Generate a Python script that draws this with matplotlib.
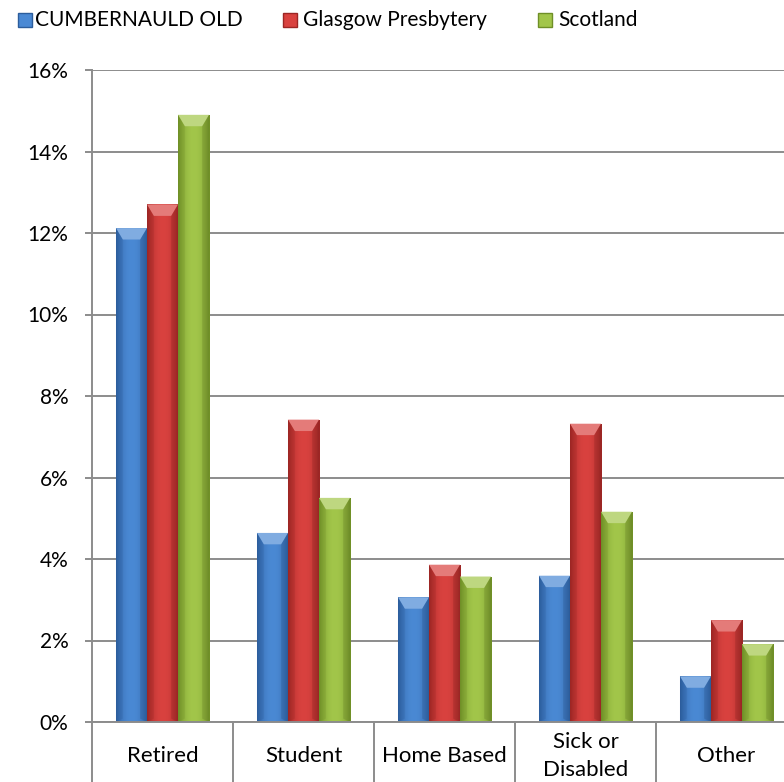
import numpy as np
import matplotlib
matplotlib.use("Agg")
import matplotlib.pyplot as plt
from matplotlib.patches import Rectangle
from matplotlib.ticker import FuncFormatter, FixedLocator
import matplotlib.transforms as mtransforms

categories = ["Retired", "Student", "Home Based", "Sick or\nDisabled", "Other"]
series_names = ["CUMBERNAULD OLD", "Glasgow Presbytery", "Scotland"]
cumbernauld = [12.12, 4.64, 3.06, 3.59, 1.12]
glasgow = [12.70, 7.42, 3.86, 7.32, 2.50]
scotland = [14.90, 5.50, 3.57, 5.16, 1.91]
yticks = [0, 2, 4, 6, 8, 10, 12, 14, 16]

colors_mid = ["#4a89d4", "#d9423f", "#a2c64a"]
colors_edge = ["#2c5d9c", "#9c2624", "#6f8f27"]

plt.rcParams['font.family'] = ['Lato', 'DejaVu Sans']

W, H = 784, 782
fig = plt.figure(figsize=(W / 100, H / 100), dpi=100)
left, right, bottom, top = 92, 797, 722, 70
ax = fig.add_axes([left / W, 1 - bottom / H, (right - left) / W, (bottom - top) / H])

x = np.arange(len(categories))
bw = 0.22
offsets = [-bw, 0, bw]
data = [cumbernauld, glasgow, scotland]

ax.set_xlim(-0.5, len(categories) - 0.5)
ax.set_ylim(0, 16)

def mix(c1, c2, t):
    a = np.array(matplotlib.colors.to_rgb(c1))
    b = np.array(matplotlib.colors.to_rgb(c2))
    return a * (1 - t) + b * t

for i, (vals, off) in enumerate(zip(data, offsets)):
    bars = ax.bar(x + off, vals, width=bw, color=colors_mid[i], edgecolor='none',
                  zorder=3, label=series_names[i])
    n = 64
    t = np.abs(np.linspace(-1, 1, n)) ** 2.2
    grad = np.array([mix(colors_mid[i], colors_edge[i], tt) for tt in t])[None, :, :]
    for b in bars:
        x0, y0 = b.get_x(), b.get_y()
        w, h = b.get_width(), b.get_height()
        im = ax.imshow(grad, extent=[x0, x0 + w, y0, y0 + h], aspect='auto',
                       zorder=3.5, interpolation='bilinear')
        im.set_clip_path(b)
        bev = 0.28
        ax.fill([x0, x0 + w, x0 + w * 0.78, x0 + w * 0.22],
                [y0 + h, y0 + h, y0 + h - bev, y0 + h - bev],
                color=mix(colors_mid[i], "#ffffff", 0.3), zorder=4, lw=0)
        ax.fill([x0, x0 + w * 0.22, x0 + w * 0.22, x0],
                [y0 + h, y0 + h - bev, y0 + bev * 0.3, y0],
                color=colors_edge[i], zorder=4, lw=0, alpha=0.25)
        ax.fill([x0 + w, x0 + w * 0.78, x0 + w * 0.78, x0 + w],
                [y0 + h, y0 + h - bev, y0 + bev * 0.3, y0],
                color=mix(colors_edge[i], "#000000", 0.2), zorder=4, lw=0, alpha=0.25)

ax.set_yticks(yticks)
ax.yaxis.set_major_formatter(FuncFormatter(lambda v, p: f"{v:.0f}%"))
ax.grid(axis='y', color='#8c8c8c', linewidth=1.4, zorder=0)
ax.set_axisbelow(True)
for s in ['top', 'right', 'bottom']:
    ax.spines[s].set_visible(False)
ax.spines['left'].set_color('#8c8c8c')
ax.spines['left'].set_linewidth(1.4)
ax.tick_params(axis='y', direction='out', length=5, width=1.4, color='#8c8c8c',
               labelsize=15, pad=12, labelcolor='black')

ax.set_xticks([])
ax.xaxis.set_minor_locator(FixedLocator(np.arange(len(categories) + 1) - 0.5))
ax.tick_params(axis='x', which='minor', direction='out', length=44, width=1.4,
               color='#8c8c8c')
ax.axhline(0, color='#8c8c8c', lw=1.4, zorder=5, clip_on=False)
trans = mtransforms.blended_transform_factory(ax.transData, fig.transFigure)
for xi, lab in zip(x, categories):
    ax.text(xi, 1 - 756 / H, lab, transform=trans, ha='center', va='center',
            fontsize=16, linespacing=1.5)

# legend (manual placement to match reference spacing)
leg_marker_x = [18, 283, 538]
leg_text_x = [35, 303, 558]
for i in range(3):
    fig.patches.append(Rectangle((leg_marker_x[i] / W, 1 - 27 / H), 14 / W, 14 / H,
                                 transform=fig.transFigure, facecolor=colors_mid[i],
                                 edgecolor=colors_edge[i], lw=1.0))
    fig.text(leg_text_x[i] / W, 1 - 20.5 / H, series_names[i], fontsize=15,
             ha='left', va='center')

fig.savefig("out.png", dpi=100)
